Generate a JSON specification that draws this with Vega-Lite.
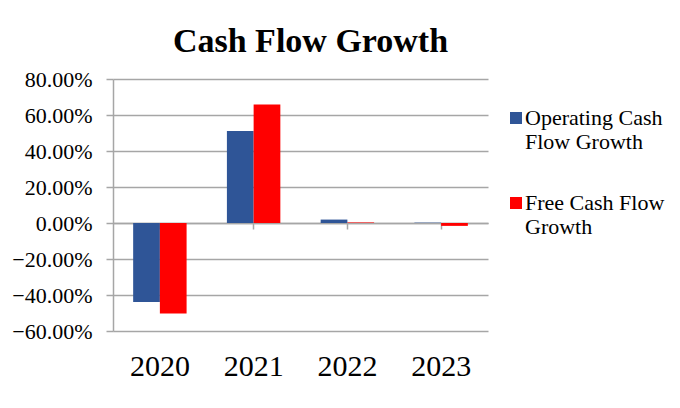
{
  "$schema": "https://vega.github.io/schema/vega-lite/v6.json",
  "autosize": {"type": "none"},
  "width": 375,
  "height": 252,
  "padding": {"left": 113, "top": 79, "right": 192, "bottom": 77},
  "background": "white",
  "title": {
    "text": "Cash Flow Growth",
    "font": "Liberation Serif",
    "fontSize": 34,
    "fontWeight": "bold",
    "color": "#000000",
    "anchor": "middle",
    "frame": "group",
    "dx": 10,
    "offset": 9
  },
  "data": {
    "values": [
      {"year": "2020", "series": "Operating Cash Flow Growth", "growth": -0.439},
      {"year": "2020", "series": "Free Cash Flow Growth", "growth": -0.503},
      {"year": "2021", "series": "Operating Cash Flow Growth", "growth": 0.511},
      {"year": "2021", "series": "Free Cash Flow Growth", "growth": 0.659},
      {"year": "2022", "series": "Operating Cash Flow Growth", "growth": 0.019},
      {"year": "2022", "series": "Free Cash Flow Growth", "growth": 0.003},
      {"year": "2023", "series": "Operating Cash Flow Growth", "growth": 0.002},
      {"year": "2023", "series": "Free Cash Flow Growth", "growth": -0.016}
    ]
  },
  "mark": {"type": "bar"},
  "encoding": {
    "x": {
      "field": "year",
      "type": "nominal",
      "scale": {"paddingInner": 0.43, "paddingOuter": 0.215},
      "axis": {
        "title": null,
        "labelAngle": 0,
        "offset": -108,
        "domainColor": "#a6a6a6",
        "domainWidth": 1.5,
        "tickColor": "#a6a6a6",
        "tickWidth": 1.5,
        "tickSize": 6,
        "labelPadding": 122,
        "labelFont": "Liberation Serif",
        "labelFontSize": 30,
        "labelColor": "#000000",
        "grid": false
      }
    },
    "xOffset": {
      "field": "series",
      "sort": ["Operating Cash Flow Growth", "Free Cash Flow Growth"],
      "scale": {"paddingInner": 0, "paddingOuter": 0}
    },
    "y": {
      "field": "growth",
      "type": "quantitative",
      "scale": {"domain": [-0.6, 0.8], "nice": false, "zero": false},
      "axis": {
        "title": null,
        "values": [-0.6, -0.4, -0.2, 0, 0.2, 0.4, 0.6, 0.8],
        "format": ".2%",
        "grid": true,
        "gridColor": "#a6a6a6",
        "gridWidth": 1.5,
        "domainColor": "#a6a6a6",
        "domainWidth": 1.5,
        "tickColor": "#a6a6a6",
        "tickWidth": 1.5,
        "tickSize": 7,
        "labelPadding": 14,
        "labelFont": "Liberation Serif",
        "labelFontSize": 22,
        "labelColor": "#000000"
      }
    },
    "color": {
      "field": "series",
      "type": "nominal",
      "scale": {
        "domain": ["Operating Cash Flow Growth", "Free Cash Flow Growth"],
        "range": ["#2f5597", "#ff0000"]
      },
      "legend": {
        "title": null,
        "orient": "none",
        "legendX": 392,
        "legendY": 28,
        "padding": 0,
        "symbolType": "square",
        "symbolSize": 144,
        "symbolStrokeWidth": 0,
        "labelFont": "Liberation Serif",
        "labelFontSize": 22,
        "labelColor": "#000000",
        "labelOffset": -2,
        "labelBaseline": "middle",
        "labelLimit": 300,
        "rowPadding": 39,
        "labelExpr": "datum.label == 'Operating Cash Flow Growth' ? ['Operating Cash', 'Flow Growth'] : ['Free Cash Flow', 'Growth']"
      }
    }
  },
  "config": {"view": {"stroke": null}}
}
